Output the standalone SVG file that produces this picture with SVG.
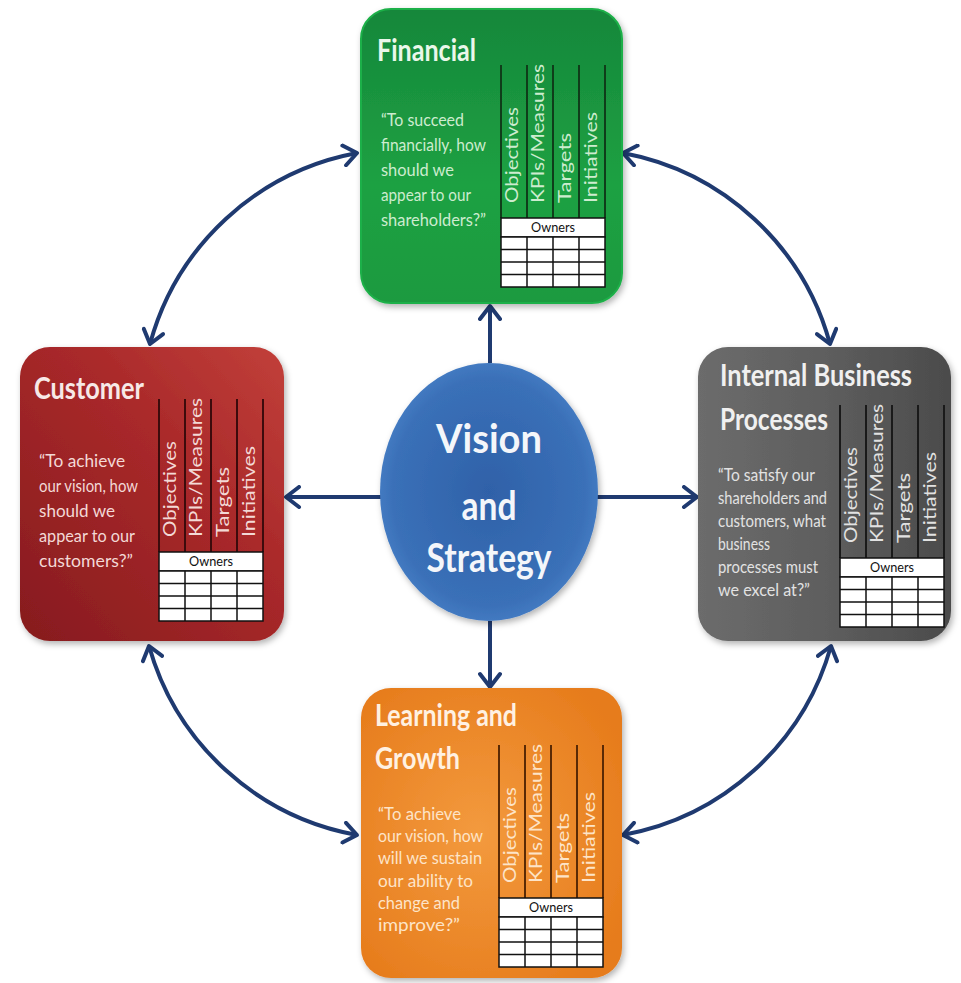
<svg xmlns="http://www.w3.org/2000/svg" xmlns:xlink="http://www.w3.org/1999/xlink" width="961" height="983" viewBox="0 0 961 983">
<defs>
<style>
.title{font-family:Lato,"Open Sans","Liberation Sans",sans-serif;font-weight:700;font-size:30px}
.quote{font-family:Lato,"Open Sans","Liberation Sans",sans-serif;font-size:18px}
.col{font-family:Lato,"Open Sans","Liberation Sans",sans-serif;font-size:18px}
.own{font-family:Lato,"Open Sans","Liberation Sans",sans-serif;font-size:13px;fill:#111;text-anchor:middle}
.vis{font-family:Lato,"Open Sans","Liberation Sans",sans-serif;font-weight:700;font-size:40px;fill:#f4f6fa;text-anchor:middle}
.conn{fill:none;stroke:#1f3a70;stroke-width:4}
.dbl{marker-start:url(#arr);marker-end:url(#arr)}
.one{marker-end:url(#arr)}
.vl{stroke:currentColor;stroke-width:2}
.gl{stroke:#111;stroke-width:1.5;fill:none}
.cell{fill:#fff;stroke:#111;stroke-width:1.5}
.fin text{fill:#cdeccf}
.fin .title{fill:#eaf7ea}
.cus text{fill:#f3d9d6}
.cus .title{fill:#f7e9e7}
.ibp text{fill:#e2e2e2}
.ibp .title{fill:#f0f0f0}
.lrn text{fill:#fde4c8}
.lrn .title{fill:#fff1e2}
text.own{fill:#111}
</style>
<linearGradient id="gFin" x1="0" y1="0" x2="0" y2="1">
<stop offset="0" stop-color="#14873a"/>
<stop offset="0.6" stop-color="#1fa143"/>
<stop offset="1" stop-color="#1a9a3f"/>
</linearGradient>
<linearGradient id="gCus" x1="0" y1="1" x2="1" y2="0">
<stop offset="0" stop-color="#861b1e"/>
<stop offset="0.6" stop-color="#a9292a"/>
<stop offset="1" stop-color="#c2403a"/>
</linearGradient>
<linearGradient id="gIbp" x1="0" y1="0" x2="1" y2="0">
<stop offset="0" stop-color="#6c6c6c"/>
<stop offset="0.5" stop-color="#5e5e5e"/>
<stop offset="1" stop-color="#4b4b4b"/>
</linearGradient>
<radialGradient id="gLrn" cx="0.45" cy="0.5" r="0.65">
<stop offset="0" stop-color="#f39a3e"/>
<stop offset="1" stop-color="#e67b1b"/>
</radialGradient>
<radialGradient id="gVis" cx="0.5" cy="0.5" r="0.55">
<stop offset="0" stop-color="#2f61a8"/>
<stop offset="0.8" stop-color="#3a70b8"/>
<stop offset="1" stop-color="#4a82c8"/>
</radialGradient>
<filter id="sh" x="-10%" y="-10%" width="120%" height="120%">
<feDropShadow dx="2" dy="3" stdDeviation="3" flood-color="#000" flood-opacity="0.3"/>
</filter>
<marker id="arr" viewBox="0 0 20 24" refX="16" refY="12" markerWidth="20" markerHeight="24" markerUnits="userSpaceOnUse" orient="auto-start-reverse">
<path d="M3,2 L16,12 L3,22" fill="none" stroke="#1f3a70" stroke-width="4" stroke-linecap="round" stroke-linejoin="round"/>
</marker>
<g id="grid">
<line class="vl" x1="0" y1="0" x2="0" y2="153"/>
<line class="vl" x1="26" y1="0" x2="26" y2="153"/>
<line class="vl" x1="52" y1="0" x2="52" y2="153"/>
<line class="vl" x1="78" y1="0" x2="78" y2="153"/>
<line class="vl" x1="104" y1="0" x2="104" y2="153"/>
<rect class="cell" x="0" y="153" width="104" height="19"/>
<rect class="cell" x="0" y="172" width="104" height="50"/>
<path class="gl" d="M0,184.5H104M0,197H104M0,209.5H104M26,172V222M52,172V222M78,172V222"/>
</g>
</defs>
<rect width="961" height="983" fill="#fff"/>

<g id="connectors">
<path class="conn one" d="M490,363 L490,306"/>
<path class="conn one" d="M381,497 L286,497"/>
<path class="conn one" d="M597,497 L697,497"/>
<path class="conn one" d="M490,621 L490,687"/>
<path class="conn dbl" d="M357,153 A265,265 0 0 0 150,344"/>
<path class="conn dbl" d="M623,153 A265,265 0 0 1 830,344"/>
<path class="conn dbl" d="M149,646 A265,265 0 0 0 357,835"/>
<path class="conn dbl" d="M831,646 A265,265 0 0 1 623,835"/>
</g>

<g id="vision">
<ellipse cx="489" cy="492" rx="109" ry="129" fill="url(#gVis)" filter="url(#sh)"/>
<text class="vis" x="489" y="453" textLength="106" lengthAdjust="spacingAndGlyphs">Vision</text>
<text class="vis" x="489" y="520" textLength="55" lengthAdjust="spacingAndGlyphs">and</text>
<text class="vis" x="489" y="572" textLength="125" lengthAdjust="spacingAndGlyphs">Strategy</text>
</g>

<g id="financial" class="fin">
<rect x="361" y="9" width="261" height="294" rx="30" fill="url(#gFin)" stroke="#1fb048" stroke-width="2" filter="url(#sh)"/>
<text class="title" x="377" y="61" textLength="99" lengthAdjust="spacingAndGlyphs">Financial</text>
<text class="quote" x="381" y="126" textLength="83" lengthAdjust="spacingAndGlyphs">“To succeed</text>
<text class="quote" x="381" y="151" textLength="105" lengthAdjust="spacingAndGlyphs">financially, how</text>
<text class="quote" x="381" y="176" textLength="73" lengthAdjust="spacingAndGlyphs">should we</text>
<text class="quote" x="381" y="201" textLength="90" lengthAdjust="spacingAndGlyphs">appear to our</text>
<text class="quote" x="381" y="226" textLength="105" lengthAdjust="spacingAndGlyphs">shareholders?”</text>
<use xlink:href="#grid" href="#grid" x="501" y="65" color="#0f3d1a"/>
<text class="col" transform="translate(518,203) rotate(-90)" textLength="96" lengthAdjust="spacingAndGlyphs">Objectives</text>
<text class="col" transform="translate(544,203) rotate(-90)" textLength="139" lengthAdjust="spacingAndGlyphs">KPIs/Measures</text>
<text class="col" transform="translate(571,203) rotate(-90)" textLength="70" lengthAdjust="spacingAndGlyphs">Targets</text>
<text class="col" transform="translate(597,203) rotate(-90)" textLength="91" lengthAdjust="spacingAndGlyphs">Initiatives</text>
<text class="own" x="553" y="232" textLength="44" lengthAdjust="spacingAndGlyphs">Owners</text>
</g>

<g id="customer" class="cus">
<rect x="20" y="347" width="264" height="294" rx="30" fill="url(#gCus)" filter="url(#sh)"/>
<text class="title" x="34" y="399" textLength="110" lengthAdjust="spacingAndGlyphs">Customer</text>
<text class="quote" x="39" y="467" textLength="86" lengthAdjust="spacingAndGlyphs">“To achieve</text>
<text class="quote" x="39" y="492" textLength="99" lengthAdjust="spacingAndGlyphs">our vision, how</text>
<text class="quote" x="39" y="517" textLength="76" lengthAdjust="spacingAndGlyphs">should we</text>
<text class="quote" x="39" y="542" textLength="96" lengthAdjust="spacingAndGlyphs">appear to our</text>
<text class="quote" x="39" y="567" textLength="94" lengthAdjust="spacingAndGlyphs">customers?”</text>
<use xlink:href="#grid" href="#grid" x="159" y="399" color="#3d0b0c"/>
<text class="col" transform="translate(176,537) rotate(-90)" textLength="96" lengthAdjust="spacingAndGlyphs">Objectives</text>
<text class="col" transform="translate(202,537) rotate(-90)" textLength="139" lengthAdjust="spacingAndGlyphs">KPIs/Measures</text>
<text class="col" transform="translate(229,537) rotate(-90)" textLength="70" lengthAdjust="spacingAndGlyphs">Targets</text>
<text class="col" transform="translate(255,537) rotate(-90)" textLength="91" lengthAdjust="spacingAndGlyphs">Initiatives</text>
<text class="own" x="211" y="566" textLength="44" lengthAdjust="spacingAndGlyphs">Owners</text>
</g>

<g id="internal" class="ibp">
<rect x="698" y="347" width="253" height="294" rx="30" fill="url(#gIbp)" filter="url(#sh)"/>
<text class="title" x="720" y="386" textLength="192" lengthAdjust="spacingAndGlyphs">Internal Business</text>
<text class="title" x="720" y="430" textLength="108" lengthAdjust="spacingAndGlyphs">Processes</text>
<text class="quote" x="718" y="481" textLength="97" lengthAdjust="spacingAndGlyphs">“To satisfy our</text>
<text class="quote" x="718" y="504" textLength="109" lengthAdjust="spacingAndGlyphs">shareholders and</text>
<text class="quote" x="718" y="527" textLength="108" lengthAdjust="spacingAndGlyphs">customers, what</text>
<text class="quote" x="718" y="550" textLength="52" lengthAdjust="spacingAndGlyphs">business</text>
<text class="quote" x="718" y="573" textLength="100" lengthAdjust="spacingAndGlyphs">processes must</text>
<text class="quote" x="718" y="596" textLength="92" lengthAdjust="spacingAndGlyphs">we excel at?”</text>
<use xlink:href="#grid" href="#grid" x="840" y="405" color="#1a1a1a"/>
<text class="col" transform="translate(857,543) rotate(-90)" textLength="96" lengthAdjust="spacingAndGlyphs">Objectives</text>
<text class="col" transform="translate(883,543) rotate(-90)" textLength="139" lengthAdjust="spacingAndGlyphs">KPIs/Measures</text>
<text class="col" transform="translate(910,543) rotate(-90)" textLength="70" lengthAdjust="spacingAndGlyphs">Targets</text>
<text class="col" transform="translate(936,543) rotate(-90)" textLength="91" lengthAdjust="spacingAndGlyphs">Initiatives</text>
<text class="own" x="892" y="572" textLength="44" lengthAdjust="spacingAndGlyphs">Owners</text>
</g>

<g id="learning" class="lrn">
<rect x="361" y="688" width="261" height="290" rx="30" fill="url(#gLrn)" filter="url(#sh)"/>
<text class="title" x="375" y="726" textLength="142" lengthAdjust="spacingAndGlyphs">Learning and</text>
<text class="title" x="375" y="769" textLength="85" lengthAdjust="spacingAndGlyphs">Growth</text>
<text class="quote" x="378" y="820" textLength="83" lengthAdjust="spacingAndGlyphs">“To achieve</text>
<text class="quote" x="378" y="842" textLength="105" lengthAdjust="spacingAndGlyphs">our vision, how</text>
<text class="quote" x="378" y="864" textLength="104" lengthAdjust="spacingAndGlyphs">will we sustain</text>
<text class="quote" x="378" y="887" textLength="95" lengthAdjust="spacingAndGlyphs">our ability to</text>
<text class="quote" x="378" y="909" textLength="82" lengthAdjust="spacingAndGlyphs">change and</text>
<text class="quote" x="378" y="931" textLength="82" lengthAdjust="spacingAndGlyphs">improve?”</text>
<use xlink:href="#grid" href="#grid" x="499" y="745" color="#5a2a05"/>
<text class="col" transform="translate(516,883) rotate(-90)" textLength="96" lengthAdjust="spacingAndGlyphs">Objectives</text>
<text class="col" transform="translate(542,883) rotate(-90)" textLength="139" lengthAdjust="spacingAndGlyphs">KPIs/Measures</text>
<text class="col" transform="translate(569,883) rotate(-90)" textLength="70" lengthAdjust="spacingAndGlyphs">Targets</text>
<text class="col" transform="translate(595,883) rotate(-90)" textLength="91" lengthAdjust="spacingAndGlyphs">Initiatives</text>
<text class="own" x="551" y="912" textLength="44" lengthAdjust="spacingAndGlyphs">Owners</text>
</g>
</svg>
